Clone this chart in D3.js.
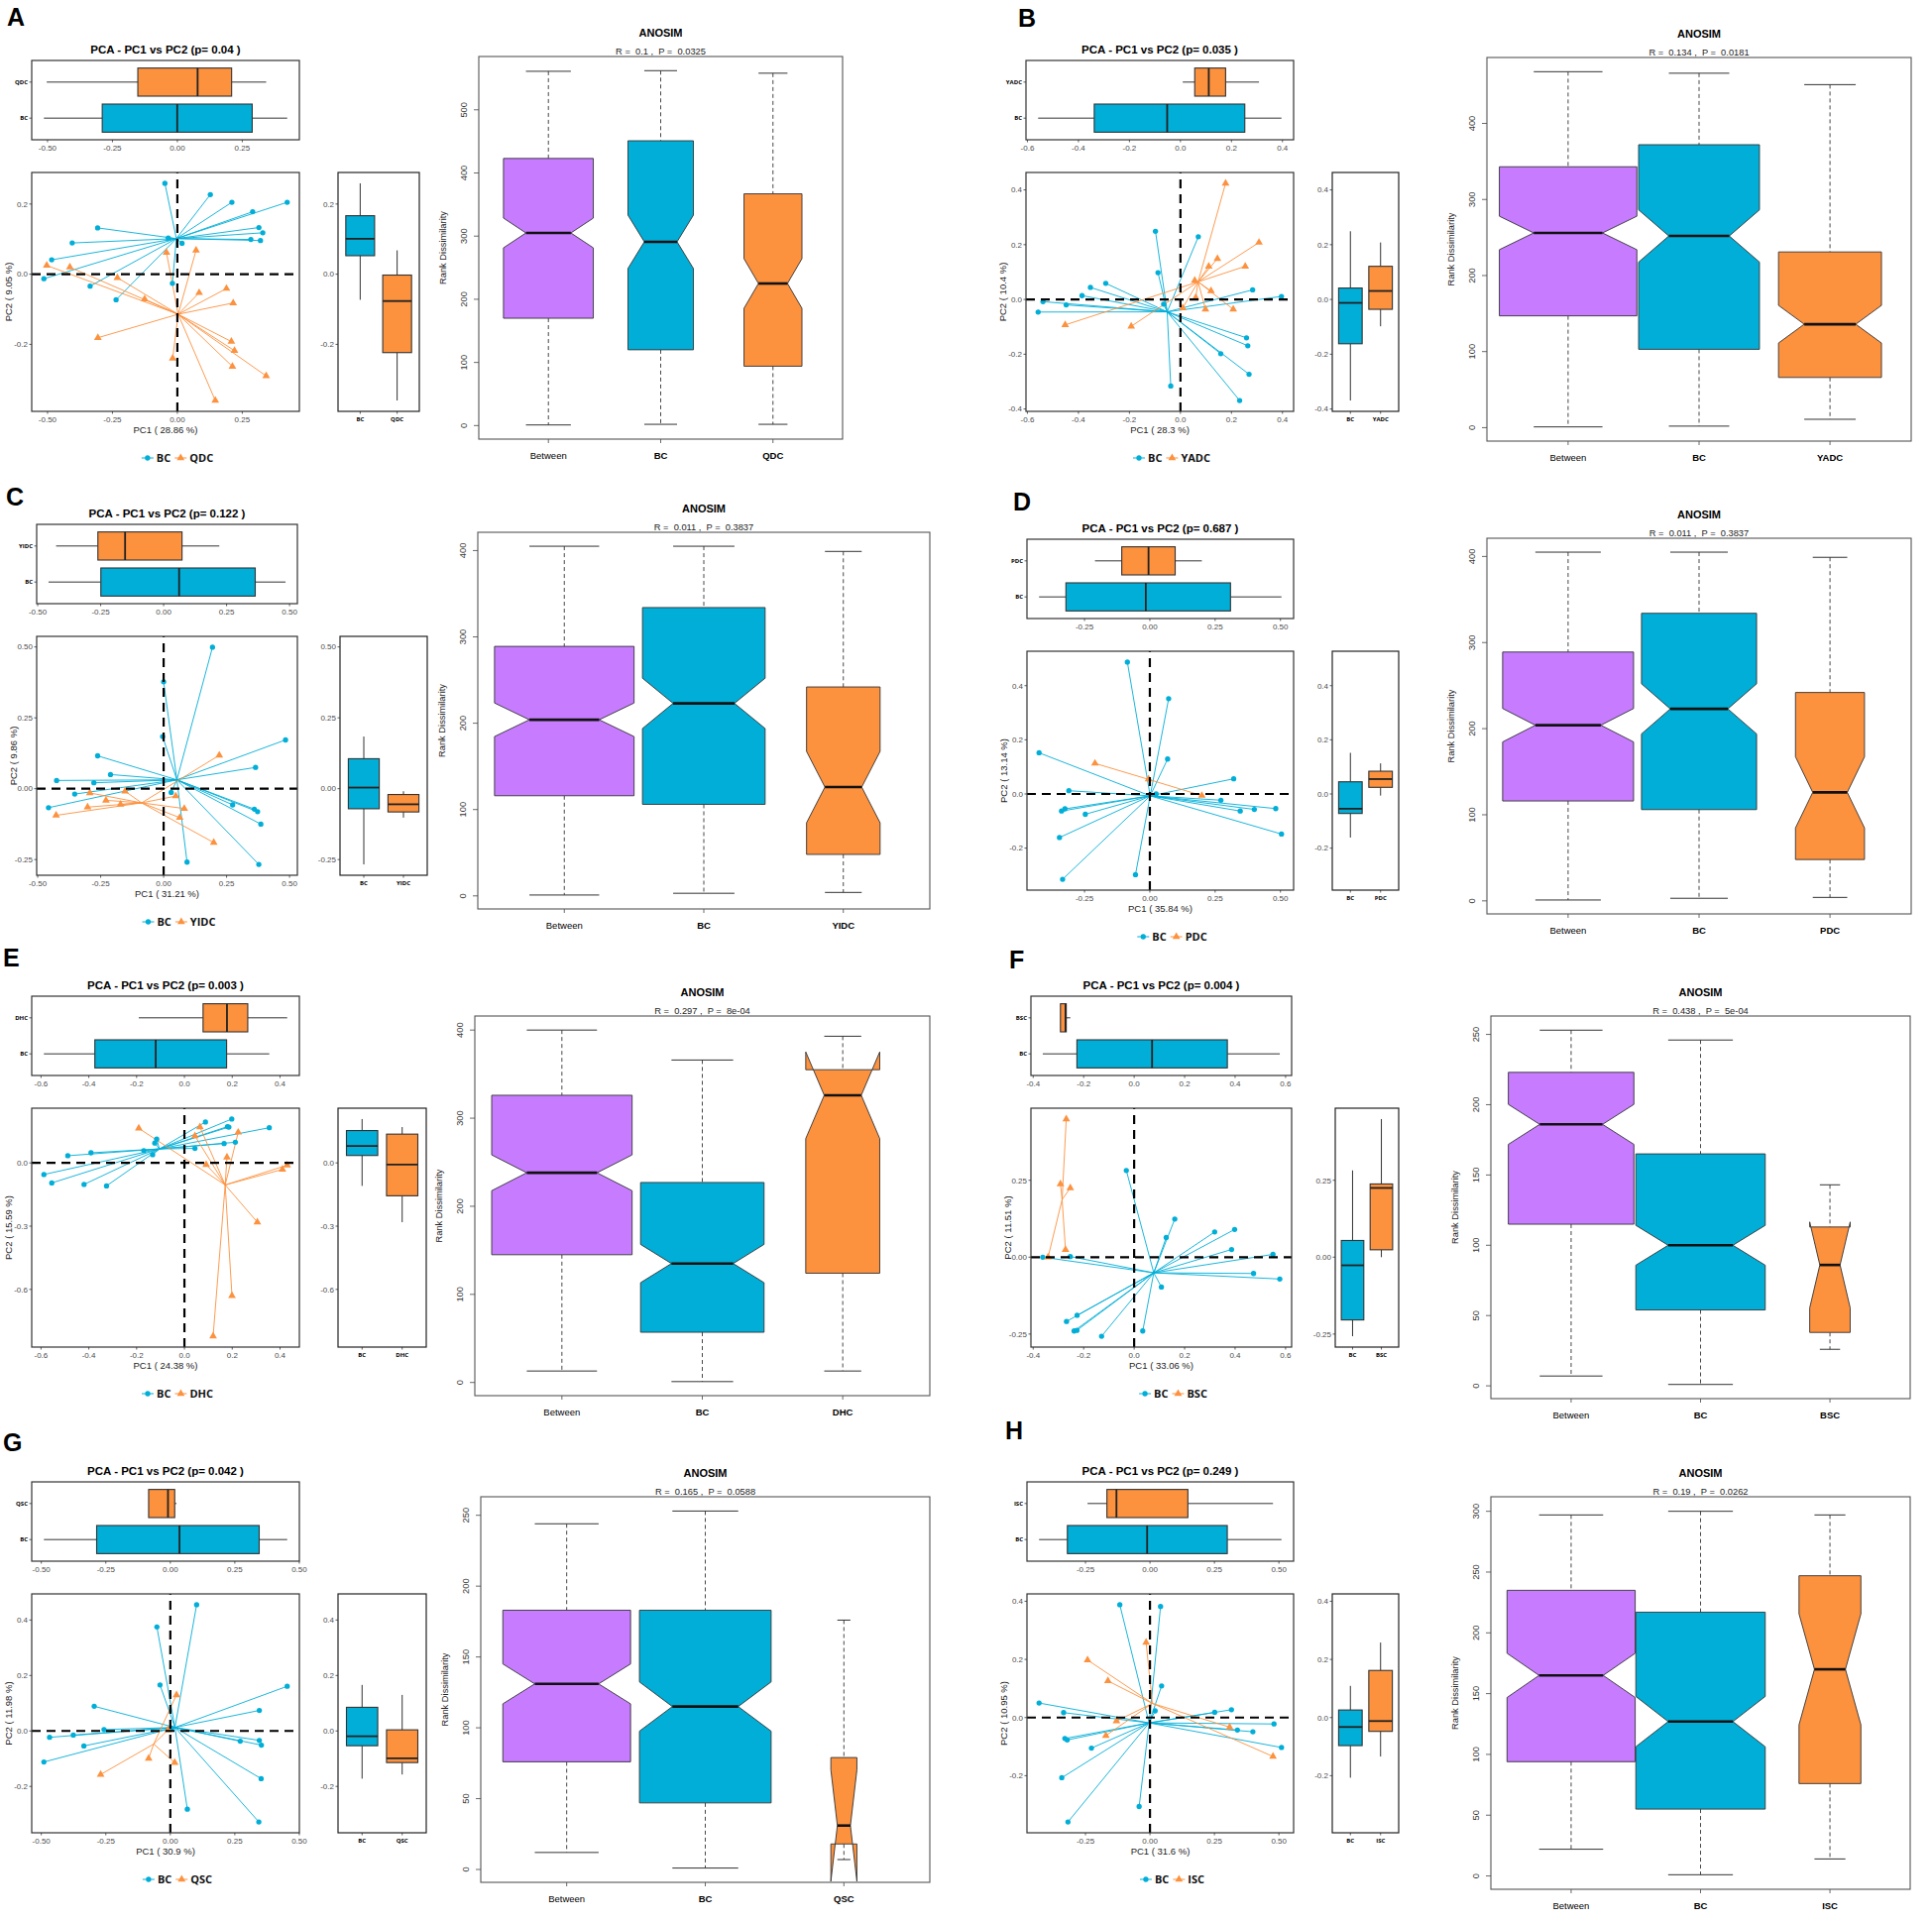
<!DOCTYPE html>
<html>
<head>
<meta charset="utf-8">
<script src="https://cdn.jsdelivr.net/npm/d3@7"></script>
<style>
  body { margin: 0; background: #fff; }
  svg { display: block; }
  text { font-family: "Liberation Sans", Arial, Helvetica, sans-serif; }
</style>
</head>
<body>
<svg id="figure" width="1949" height="1938"></svg>
<script>
// ---------------- data ----------------
const panelLetters = ["A", "B", "C", "D", "E", "F", "G", "H"];
const otherGroups = ["QDC", "YADC", "YIDC", "PDC", "DHC", "BSC", "QSC", "ISC"];
const pcaPValues = ["0.04", "0.035", "0.122", "0.687", "0.003", "0.004", "0.042", "0.249"];
const pc1Percent = ["28.86", "28.3", "31.21", "35.84", "24.38", "33.06", "30.9", "31.6"];
const pc2Percent = ["9.05", "10.4", "9.86", "13.14", "15.59", "11.51", "11.98", "10.95"];
const anosimR = ["0.1", "0.134", "0.011", "0.011", "0.297", "0.438", "0.165", "0.19"];
const anosimP = ["0.0325", "0.0181", "0.3837", "0.3837", "8e-04", "5e-04", "0.0588", "0.0262"];

// PCA scores [PC1, PC2]
const bcA = [[-0.048,0.259],[0.127,0.227],[0.210,0.205],[0.423,0.205],[0.290,0.178],[0.314,0.133],[0.329,0.118],[0.283,0.099],[0.320,0.096],[-0.307,0.132],[-0.405,0.089],[-0.484,0.041],[-0.514,-0.013],[-0.336,-0.034],[-0.236,-0.073],[-0.035,0.103],[0.018,0.088],[-0.019,-0.026]];
const grpA = [[-0.503,0.025],[-0.414,0.020],[-0.231,-0.010],[-0.126,-0.071],[-0.042,0.062],[0.072,0.068],[0.084,-0.053],[0.189,-0.041],[0.215,-0.082],[-0.306,-0.181],[0.208,-0.192],[0.220,-0.218],[-0.018,-0.240],[0.212,-0.263],[0.342,-0.290],[0.146,-0.360]];
const bcB = [[-0.098,0.249],[0.070,0.229],[-0.088,0.098],[-0.293,0.059],[-0.353,0.044],[-0.386,0.014],[-0.539,-0.008],[-0.448,-0.020],[-0.558,-0.046],[-0.066,-0.017],[0.283,0.035],[0.396,0.011],[0.259,-0.140],[0.264,-0.169],[0.158,-0.198],[0.269,-0.273],[0.232,-0.369],[-0.038,-0.316]];
const grpB = [[0.177,0.424],[0.308,0.208],[0.145,0.149],[0.111,0.121],[0.254,0.121],[0.056,0.069],[0.120,0.031],[0.060,0.007],[0.009,-0.031],[0.098,-0.036],[0.207,-0.036],[-0.452,-0.093],[-0.193,-0.098]];
const bcC = [[0.194,0.499],[0.000,0.377],[-0.004,0.184],[-0.262,0.116],[-0.211,0.050],[-0.425,0.029],[-0.277,0.021],[-0.353,-0.019],[-0.457,-0.067],[0.030,-0.013],[0.484,0.172],[0.365,0.075],[0.274,-0.057],[0.360,-0.072],[0.373,-0.081],[0.386,-0.125],[0.378,-0.267],[0.093,-0.259]];
const grpC = [[0.221,0.118],[-0.293,-0.015],[-0.153,-0.009],[-0.229,-0.041],[-0.171,-0.055],[-0.302,-0.065],[-0.427,-0.094],[0.048,-0.026],[0.082,-0.070],[0.064,-0.102],[0.199,-0.190]];
const bcD = [[-0.086,0.487],[0.072,0.352],[0.068,0.129],[-0.424,0.152],[-0.310,0.012],[-0.325,-0.055],[-0.338,-0.063],[-0.247,-0.075],[-0.346,-0.161],[-0.334,-0.315],[-0.055,-0.298],[0.024,0.000],[0.321,0.056],[0.272,-0.023],[0.346,-0.063],[0.400,-0.057],[0.482,-0.054],[0.504,-0.148]];
const grpD = [[-0.210,0.113],[-0.005,0.055],[0.199,-0.006]];
const bcE = [[0.088,0.194],[0.198,0.208],[0.180,0.172],[0.186,0.170],[0.355,0.167],[0.166,0.092],[0.213,0.098],[0.044,0.069],[-0.116,0.113],[-0.124,0.094],[-0.170,0.058],[-0.133,0.039],[-0.391,0.048],[-0.488,0.034],[-0.588,-0.055],[-0.555,-0.095],[-0.420,-0.102],[-0.326,-0.109]];
const grpE = [[-0.191,0.164],[0.065,0.170],[0.044,0.128],[0.225,0.145],[0.178,0.027],[0.091,-0.008],[0.430,-0.011],[0.410,-0.031],[0.305,-0.281],[0.199,-0.630],[0.120,-0.822]];
const bcF = [[-0.031,0.282],[0.161,0.124],[0.127,0.064],[0.319,0.082],[0.398,0.090],[0.386,0.025],[0.550,0.009],[0.473,-0.053],[0.577,-0.071],[0.108,-0.097],[-0.362,0.000],[-0.253,0.002],[-0.226,-0.189],[-0.268,-0.209],[-0.238,-0.240],[-0.227,-0.238],[-0.129,-0.257],[0.034,-0.240]];
const grpF = [[-0.269,0.449],[-0.292,0.238],[-0.253,0.225],[-0.272,0.024],[-0.341,0.000]];
const bcG = [[0.102,0.455],[-0.052,0.375],[-0.040,0.166],[-0.295,0.089],[-0.257,0.005],[-0.376,-0.015],[-0.468,-0.023],[-0.335,-0.054],[-0.490,-0.112],[0.453,0.161],[0.345,0.074],[0.271,-0.037],[0.345,-0.034],[0.353,-0.051],[0.352,-0.172],[0.066,-0.282],[0.343,-0.328],[0.005,0.010]];
const grpG = [[0.024,0.130],[-0.084,-0.099],[0.017,-0.114],[-0.270,-0.157],[-0.009,0.004]];
const bcH = [[-0.117,0.388],[0.041,0.382],[0.045,0.109],[0.020,0.023],[-0.430,0.050],[-0.335,0.017],[0.251,0.018],[0.316,0.027],[0.481,-0.022],[0.339,-0.043],[0.399,-0.049],[0.510,-0.103],[-0.330,-0.072],[-0.321,-0.077],[-0.227,-0.105],[-0.342,-0.207],[-0.318,-0.359],[-0.042,-0.306]];
const grpH = [[-0.015,0.258],[-0.242,0.198],[-0.163,0.126],[-0.130,-0.012],[-0.171,-0.062],[0.309,-0.033],[0.477,-0.134]];
const bcScores = [bcA, bcB, bcC, bcD, bcE, bcF, bcG, bcH];
const groupScores = [grpA, grpB, grpC, grpD, grpE, grpF, grpG, grpH];

// PCA tick labels
const pcaXTicks = [
  ["-0.50","-0.25","0.00","0.25"], ["-0.6","-0.4","-0.2","0.0","0.2","0.4"],
  ["-0.50","-0.25","0.00","0.25","0.50"], ["-0.25","0.00","0.25","0.50"],
  ["-0.6","-0.4","-0.2","0.0","0.2","0.4"], ["-0.4","-0.2","0.0","0.2","0.4","0.6"],
  ["-0.50","-0.25","0.00","0.25","0.50"], ["-0.25","0.00","0.25","0.50"]
];
const pcaYTicks = [
  ["-0.2","0.0","0.2"], ["-0.4","-0.2","0.0","0.2","0.4"],
  ["-0.25","0.00","0.25","0.50"], ["-0.2","0.0","0.2","0.4"],
  ["-0.6","-0.3","0.0"], ["-0.25","0.00","0.25"],
  ["-0.2","0.0","0.2","0.4"], ["-0.2","0.0","0.2","0.4"]
];

// ANOSIM rank dissimilarity boxes: [lower whisker, Q1, median, Q3, upper whisker] for Between, BC, other group
const anosimA = [[1,170,305,423,561],[2,120,291,451,562],[2,94,225,367,558]];
const anosimB = [[1,147,256,343,468],[2,103,252,372,466],[11,66,136,231,451]];
const anosimC = [[1,116,204,289,405],[3,106,223,334,405],[4,48,126,242,399]];
const anosimD = [[1,116,204,289,405],[3,106,223,334,405],[4,48,126,242,399]];
const anosimE = [[13,145,238,326,400],[1,57,135,227,366],[13,124,326,355,393]];
const anosimF = [[7,115,186,223,253],[1,54,100,165,246],[26,38,86,113,143]];
const anosimG = [[12,76,131,183,244],[1,47,115,183,253],[7,18,31,79,176]];
const anosimH = [[22,94,165,235,297],[1,55,127,217,300],[14,76,170,247,297]];
const anosimStats = [anosimA, anosimB, anosimC, anosimD, anosimE, anosimF, anosimG, anosimH];
const anosimPairs = [[288,153,120],[198,153,111],[198,153,55],[198,153,55],[198,153,55],[144,153,15],[144,153,6],[150,153,35]];
const anosimTicks = [
  [0,100,200,300,400,500], [0,100,200,300,400], [0,100,200,300,400], [0,100,200,300,400],
  [0,100,200,300,400], [0,50,100,150,200,250], [0,50,100,150,200,250], [0,50,100,150,200,250,300]
];

// ---------------- layout (pixels) ----------------
const layout = [
  {sx0: 32,   sx1: 302,  rx0: 341,  rx1: 423,  ty: 50,   letter: [7, 26],     anosim: [483, 57, 850, 443],     boxwex: 0.8},
  {sx0: 1035, sx1: 1305, rx0: 1344, rx1: 1411, ty: 50,   letter: [1027, 27],  anosim: [1500, 58, 1928, 445],   boxwex: 1.05},
  {sx0: 37,   sx1: 300,  rx0: 343,  rx1: 431,  ty: 518,  letter: [6, 510],    anosim: [482, 537, 938, 917],    boxwex: 1.0},
  {sx0: 1036, sx1: 1305, rx0: 1344, rx1: 1411, ty: 533,  letter: [1022, 515], anosim: [1500, 543, 1928, 922],  boxwex: 1.0},
  {sx0: 32,   sx1: 302,  rx0: 341,  rx1: 430,  ty: 994,  letter: [3, 975],    anosim: [479, 1025, 938, 1408],  boxwex: 1.0},
  {sx0: 1040, sx1: 1303, rx0: 1347, rx1: 1411, ty: 994,  letter: [1018, 977], anosim: [1504, 1025, 1927, 1411], boxwex: 1.0},
  {sx0: 32,   sx1: 302,  rx0: 341,  rx1: 430,  ty: 1484, letter: [3, 1464],   anosim: [485, 1510, 938, 1899],  boxwex: 0.95},
  {sx0: 1036, sx1: 1305, rx0: 1344, rx1: 1411, ty: 1484, letter: [1014, 1452], anosim: [1504, 1510, 1927, 1906], boxwex: 1.0}
];

const BLUE = "#00AED7";
const ORANGE = "#FC913E";
const PURPLE = "#C77CFF";
const LEGEND_FONT = "'Open Sans', 'Liberation Sans', sans-serif";

const svg = d3.select("#figure");

function expand(ext, f) {
  const r = ext[1] - ext[0];
  return [ext[0] - f * r, ext[1] + f * r];
}

// ggplot style box statistics (type 7 quantiles, 1.5 IQR whiskers)
function boxStats(values) {
  const s = values.slice().sort(d3.ascending);
  const q1 = d3.quantileSorted(s, 0.25);
  const med = d3.quantileSorted(s, 0.5);
  const q3 = d3.quantileSorted(s, 0.75);
  const iqr = q3 - q1;
  const lo = d3.min(s.filter(v => v >= q1 - 1.5 * iqr));
  const hi = d3.max(s.filter(v => v <= q3 + 1.5 * iqr));
  return {q1, med, q3, lo, hi};
}

function seg(g, x1, y1, x2, y2, color, width, dash) {
  const l = g.append("line")
    .attr("x1", x1).attr("y1", y1).attr("x2", x2).attr("y2", y2)
    .attr("stroke", color).attr("stroke-width", width);
  if (dash) l.attr("stroke-dasharray", dash);
  return l;
}

function frame(g, x0, y0, x1, y1, color, width) {
  g.append("rect")
    .attr("x", x0).attr("y", y0).attr("width", x1 - x0).attr("height", y1 - y0)
    .attr("fill", "none").attr("stroke", color).attr("stroke-width", width);
}

function drawPca(g, i) {
  const L = layout[i];
  const bc = bcScores[i];
  const other = groupScores[i];
  const all = bc.concat(other);
  const bTop = L.ty + 11, bBot = L.ty + 91;
  const sTop = L.ty + 124, sBot = L.ty + 365;
  const midX = (L.sx0 + L.sx1) / 2;

  const x = d3.scaleLinear().domain(expand(d3.extent(all, d => d[0]), 0.05)).range([L.sx0, L.sx1]);
  const y = d3.scaleLinear().domain(expand(d3.extent(all, d => d[1]), 0.05)).range([sBot, sTop]);

  const groups = [
    {name: "BC", pts: bc, color: BLUE, pos: 1, shape: d3.symbolCircle, size: 22},
    {name: otherGroups[i], pts: other, color: ORANGE, pos: 2, shape: d3.symbolTriangle, size: 26}
  ];

  g.append("text")
    .attr("x", midX).attr("y", L.ty + 4)
    .attr("text-anchor", "middle")
    .style("font-size", "11.5px").style("font-weight", "bold")
    .text(`PCA - PC1 vs PC2 (p= ${pcaPValues[i]} )`);

  // top boxplot: PC1 by group
  const by = d3.scaleLinear().domain([0.4, 2.6]).range([bBot, bTop]);
  const bHalf = Math.abs(by(1.39) - by(1));
  groups.forEach(gr => {
    const s = boxStats(gr.pts.map(d => d[0]));
    const c = by(gr.pos);
    seg(g, x(s.lo), c, x(s.q1), c, "#333", 1);
    seg(g, x(s.q3), c, x(s.hi), c, "#333", 1);
    g.append("rect")
      .attr("x", x(s.q1)).attr("y", c - bHalf)
      .attr("width", x(s.q3) - x(s.q1)).attr("height", 2 * bHalf)
      .attr("fill", gr.color).attr("stroke", "#333").attr("stroke-width", 1.1);
    seg(g, x(s.med), c - bHalf, x(s.med), c + bHalf, "#222", 1.8);
    seg(g, L.sx0 - 2.5, c, L.sx0, c, "#333", 0.8);
    g.append("text")
      .attr("x", L.sx0 - 4).attr("y", c).attr("dy", "0.35em")
      .attr("text-anchor", "end")
      .style("font-family", LEGEND_FONT).style("font-size", "6px").style("font-weight", "bold")
      .text(gr.name);
  });
  frame(g, L.sx0, bTop, L.sx1, bBot, "#333", 1.2);
  pcaXTicks[i].forEach(t => {
    seg(g, x(+t), bBot, x(+t), bBot + 2.5, "#333", 0.8);
    g.append("text")
      .attr("x", x(+t)).attr("y", bBot + 10.5).attr("text-anchor", "middle")
      .style("font-size", "8px").style("fill", "#4d4d4d").text(t);
  });

  // scatter with spider lines to the group centroid
  groups.forEach(gr => {
    const cx = d3.mean(gr.pts, d => d[0]);
    const cy = d3.mean(gr.pts, d => d[1]);
    g.append("g").selectAll("line").data(gr.pts).join("line")
      .attr("x1", d => x(d[0])).attr("y1", d => y(d[1]))
      .attr("x2", x(cx)).attr("y2", y(cy))
      .attr("stroke", gr.color).attr("stroke-width", 0.9);
  });
  groups.forEach(gr => {
    g.append("g").selectAll("path").data(gr.pts).join("path")
      .attr("d", d3.symbol(gr.shape, gr.size))
      .attr("transform", d => `translate(${x(d[0])},${y(d[1])})`)
      .attr("fill", gr.color);
  });
  seg(g, L.sx0, y(0), L.sx1, y(0), "#000", 2.2, "9,6");
  seg(g, x(0), sBot, x(0), sTop, "#000", 2.2, "9,6");
  frame(g, L.sx0, sTop, L.sx1, sBot, "#333", 1.2);

  pcaXTicks[i].forEach(t => {
    seg(g, x(+t), sBot, x(+t), sBot + 2.5, "#333", 0.8);
    g.append("text")
      .attr("x", x(+t)).attr("y", sBot + 11).attr("text-anchor", "middle")
      .style("font-size", "8px").style("fill", "#4d4d4d").text(t);
  });
  pcaYTicks[i].forEach(t => {
    seg(g, L.sx0 - 2.5, y(+t), L.sx0, y(+t), "#333", 0.8);
    g.append("text")
      .attr("x", L.sx0 - 4).attr("y", y(+t)).attr("dy", "0.35em").attr("text-anchor", "end")
      .style("font-size", "8px").style("fill", "#4d4d4d").text(t);
  });
  g.append("text")
    .attr("x", midX).attr("y", L.ty + 387).attr("text-anchor", "middle")
    .style("font-size", "9.5px").style("fill", "#222")
    .text(`PC1 ( ${pc1Percent[i]} %)`);
  g.append("text")
    .attr("transform", `translate(${L.sx0 - 20},${(sTop + sBot) / 2}) rotate(-90)`)
    .attr("text-anchor", "middle")
    .style("font-size", "9.5px").style("fill", "#222")
    .text(`PC2 ( ${pc2Percent[i]} %)`);

  // right boxplot: PC2 by group
  const rx = d3.scaleLinear().domain([0.4, 2.6]).range([L.rx0, L.rx1]);
  const rHalf = rx(1.39) - rx(1);
  groups.forEach(gr => {
    const s = boxStats(gr.pts.map(d => d[1]));
    const c = rx(gr.pos);
    seg(g, c, y(s.hi), c, y(s.q3), "#333", 1);
    seg(g, c, y(s.q1), c, y(s.lo), "#333", 1);
    g.append("rect")
      .attr("x", c - rHalf).attr("y", y(s.q3))
      .attr("width", 2 * rHalf).attr("height", y(s.q1) - y(s.q3))
      .attr("fill", gr.color).attr("stroke", "#333").attr("stroke-width", 1.1);
    seg(g, c - rHalf, y(s.med), c + rHalf, y(s.med), "#222", 1.8);
    seg(g, c, sBot, c, sBot + 2.5, "#333", 0.8);
    g.append("text")
      .attr("x", c).attr("y", sBot + 10).attr("text-anchor", "middle")
      .style("font-family", LEGEND_FONT).style("font-size", "6px").style("font-weight", "bold")
      .text(gr.name);
  });
  frame(g, L.rx0, sTop, L.rx1, sBot, "#222", 1.2);
  pcaYTicks[i].forEach(t => {
    seg(g, L.rx0 - 2.5, y(+t), L.rx0, y(+t), "#333", 0.8);
    g.append("text")
      .attr("x", L.rx0 - 4).attr("y", y(+t)).attr("dy", "0.35em").attr("text-anchor", "end")
      .style("font-size", "8px").style("fill", "#4d4d4d").text(t);
  });

  // legend
  const lg = g.append("g");
  let cursor = 0;
  groups.forEach(gr => {
    seg(lg, cursor, 0, cursor + 12, 0, gr.color, 1);
    lg.append("path")
      .attr("d", d3.symbol(gr.shape, gr.size))
      .attr("transform", `translate(${cursor + 6},0)`)
      .attr("fill", gr.color);
    const t = lg.append("text")
      .attr("x", cursor + 15).attr("y", 0).attr("dy", "0.36em")
      .style("font-family", LEGEND_FONT).style("font-size", "11px").style("font-weight", "bold")
      .style("fill", "#111")
      .text(gr.name);
    cursor += 15 + t.node().getComputedTextLength() + 4;
  });
  lg.attr("transform", `translate(${midX + 12 - (cursor - 4) / 2},${L.ty + 412})`);
}

function drawAnosim(g, i) {
  const L = layout[i];
  const [x0, y0, x1, y1] = L.anosim;
  const stats = anosimStats[i];
  const pairs = anosimPairs[i];
  const names = ["Between", "BC", otherGroups[i]];
  const fills = [PURPLE, BLUE, ORANGE];

  const yExt = [d3.min(stats, s => s[0]), d3.max(stats, s => s[4])];
  const y = d3.scaleLinear().domain(expand(yExt, 0.04)).range([y1, y0]);
  const x = d3.scaleLinear().domain([0.38, 3.62]).range([x0, x1]);
  const unit = x(2) - x(1);
  const nMax = d3.max(pairs);

  stats.forEach((s, k) => {
    const [lo, q1, med, q3, hi] = s;
    const cx = x(k + 1);
    const hw = L.boxwex * Math.sqrt(pairs[k] / nMax) * unit / 2;
    const notch = 1.58 * (q3 - q1) / Math.sqrt(pairs[k]);
    const nlo = med - notch, nhi = med + notch;

    seg(g, cx, y(hi), cx, y(q3), "#333", 0.9, "4,3");
    seg(g, cx, y(q1), cx, y(lo), "#333", 0.9, "4,3");
    seg(g, cx - hw / 2, y(hi), cx + hw / 2, y(hi), "#333", 1);
    seg(g, cx - hw / 2, y(lo), cx + hw / 2, y(lo), "#333", 1);

    const outline = [[-1, q1], [1, q1], [1, nlo], [0.5, med], [1, nhi], [1, q3], [-1, q3], [-1, nhi], [-0.5, med], [-1, nlo]];
    g.append("path")
      .attr("d", d3.line()(outline.map(p => [cx + p[0] * hw, y(p[1])])) + "Z")
      .attr("fill", fills[k]).attr("stroke", "#333").attr("stroke-width", 0.9);
    seg(g, cx - hw / 2, y(med), cx + hw / 2, y(med), "#111", 2.6);

    seg(g, cx, y1, cx, y1 + 4, "#444", 0.8);
    g.append("text")
      .attr("x", cx).attr("y", y1 + 20).attr("text-anchor", "middle")
      .style("font-size", "9.5px").style("font-weight", k === 0 ? "normal" : "bold")
      .text(names[k]);
  });

  frame(g, x0, y0, x1, y1, "#555", 1.1);

  anosimTicks[i].forEach(t => {
    seg(g, x0 - 5, y(t), x0, y(t), "#444", 0.8);
    g.append("text")
      .attr("transform", `translate(${x0 - 12},${y(t)}) rotate(-90)`)
      .attr("text-anchor", "middle")
      .style("font-size", "9.3px").style("fill", "#333")
      .text(t);
  });
  g.append("text")
    .attr("transform", `translate(${x0 - 33},${(y0 + y1) / 2}) rotate(-90)`)
    .attr("text-anchor", "middle")
    .style("font-size", "9.3px").style("fill", "#222")
    .text("Rank Dissimilarity");

  g.append("text")
    .attr("x", (x0 + x1) / 2).attr("y", y0 - 20).attr("text-anchor", "middle")
    .style("font-size", "11px").style("font-weight", "bold")
    .text("ANOSIM");
  g.append("text")
    .attr("x", (x0 + x1) / 2).attr("y", y0 - 2).attr("text-anchor", "middle")
    .style("font-size", "9.3px").style("white-space", "pre").style("fill", "#222")
    .text(`R =  ${anosimR[i]} ,  P =  ${anosimP[i]}`);
}

panelLetters.forEach((letter, i) => {
  const L = layout[i];
  const g = svg.append("g").attr("class", "panel-" + letter);
  g.append("text")
    .attr("x", L.letter[0]).attr("y", L.letter[1])
    .style("font-size", "25px").style("font-weight", "bold")
    .text(letter);
  drawPca(g, i);
  drawAnosim(g, i);
});
</script>
</body>
</html>
